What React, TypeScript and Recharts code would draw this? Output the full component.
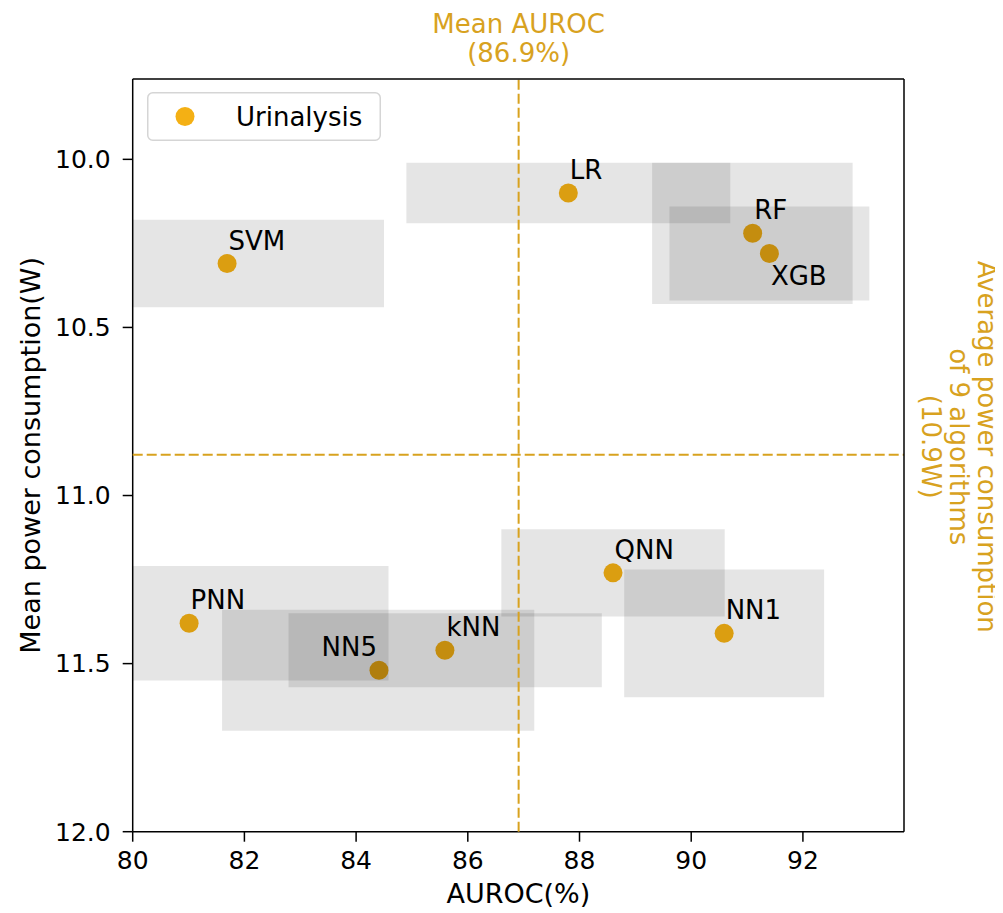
import React from 'react';
import {
  ScatterChart,
  Scatter,
  XAxis,
  YAxis,
  ReferenceArea,
  ReferenceLine,
  Legend,
} from 'recharts';

// ---------- data ----------
const models = ['LR', 'SVM', 'RF', 'XGB', 'QNN', 'NN1', 'PNN', 'NN5', 'kNN'];
const meanAuroc = [87.8, 81.69, 91.1, 91.4, 88.6, 90.59, 81.01, 84.41, 85.59];
const meanPower = [10.1, 10.31, 10.22, 10.28, 11.23, 11.41, 11.38, 11.52, 11.46];
const aurocLow = [84.9, 78.88, 89.3, 89.61, 86.6, 88.8, 77.44, 81.6, 82.79];
const aurocHigh = [90.7, 84.5, 92.89, 93.19, 90.6, 92.38, 84.58, 87.19, 88.4];
const powerLow = [10.01, 10.18, 10.01, 10.14, 11.1, 11.22, 11.21, 11.34, 11.35];
const powerHigh = [10.19, 10.44, 10.43, 10.42, 11.36, 11.6, 11.55, 11.7, 11.57];
const xTicks = [80, 82, 84, 86, 88, 90, 92];
const yTicks = [10.0, 10.5, 11.0, 11.5, 12.0];
const seriesName = 'Urinalysis';
const xLabel = 'AUROC(%)';
const yLabel = 'Mean power consumption(W)';
const meanXTitle = 'Mean AUROC';
const meanYTitle = ['Average power consumption', 'of 9 algorithms'];

// ---------- styles ----------
const X_DOMAIN: [number, number] = [80, 93.81];
const Y_DOMAIN: [number, number] = [9.761, 12.0];
const DOT = '#F4B014';
const GOLD = '#D8A21F';
const FONT = 'DejaVu Sans, Verdana, sans-serif';
const labelPlacement: Record<string, string> = { XGB: 'below', NN5: 'left' };

const points = models.map((name, i) => ({ name, x: meanAuroc[i], y: meanPower[i] }));
const avgAuroc = meanAuroc.reduce((a, b) => a + b, 0) / meanAuroc.length;
const avgPower = meanPower.reduce((a, b) => a + b, 0) / meanPower.length;

const PointShape = (props: any) => {
  const { cx, cy, payload } = props;
  if (cx == null || cy == null) return null;
  const place = labelPlacement[payload.name] ?? 'above';
  let tx = cx + 1.5;
  let ty = cy - 14;
  let anchor: 'start' | 'end' = 'start';
  if (place === 'below') ty = cy + 32;
  if (place === 'left') {
    tx = cx - 2;
    anchor = 'end';
  }
  return (
    <g>
      <circle cx={cx} cy={cy} r={9.5} fill={DOT} />
      <text x={tx} y={ty} textAnchor={anchor} fontSize={26} fontFamily={FONT} fill="#000">
        {payload.name}
      </text>
    </g>
  );
};

const TopTitle = (props: any) => {
  const vb = props.viewBox || {};
  const x = vb.x ?? 0;
  const y = vb.y ?? 0;
  return (
    <g>
      <text x={x} y={y - 46} textAnchor="middle" fontSize={26} fontFamily={FONT} fill={GOLD}>
        {meanXTitle}
      </text>
      <text x={x} y={y - 17} textAnchor="middle" fontSize={26} fontFamily={FONT} fill={GOLD}>
        {`(${avgAuroc.toFixed(1)}%)`}
      </text>
    </g>
  );
};

const RightTitle = (props: any) => {
  const vb = props.viewBox || {};
  const right = (vb.x ?? 0) + (vb.width ?? 0);
  const cy = (vb.y ?? 0) - 8;
  const lines = [...meanYTitle, `(${avgPower.toFixed(1)}W)`];
  const offs = [74, 46, 18];
  return (
    <g>
      {lines.map((t, i) => (
        <text
          key={i}
          x={right + offs[i]}
          y={cy}
          textAnchor="middle"
          fontSize={26}
          fontFamily={FONT}
          fill={GOLD}
          transform={`rotate(90, ${right + offs[i]}, ${cy})`}
        >
          {t}
        </text>
      ))}
    </g>
  );
};

const XTitle = (props: any) => {
  const vb = props.viewBox || {};
  return (
    <text
      x={(vb.x ?? 0) + (vb.width ?? 0) / 2}
      y={(vb.y ?? 0) + 71.3}
      textAnchor="middle"
      fontSize={27}
      fontFamily={FONT}
      fill="#000"
    >
      {xLabel}
    </text>
  );
};

const YTitle = (props: any) => {
  const vb = props.viewBox || {};
  const x = (vb.x ?? 0) + (vb.width ?? 0) - 92.7;
  const y = (vb.y ?? 0) + (vb.height ?? 0) / 2;
  return (
    <text
      x={x}
      y={y}
      textAnchor="middle"
      fontSize={27}
      fontFamily={FONT}
      fill="#000"
      transform={`rotate(-90, ${x}, ${y})`}
    >
      {yLabel}
    </text>
  );
};

const LegendBox = (props: any) => {
  const entry = props.payload && props.payload[0];
  const label = entry?.value ?? seriesName;
  return (
    <svg width={234} height={49} style={{ display: 'block' }}>
      <rect x={0.75} y={0.75} width={232.5} height={47.5} rx={5} ry={5} fill="rgba(255,255,255,0.8)" stroke="#d5d5d5" strokeWidth={1.5} />
      <circle cx={38} cy={24.5} r={9.5} fill={DOT} />
      <text x={89} y={33.5} fontSize={26} fontFamily={FONT} fill="#000">
        {label}
      </text>
    </svg>
  );
};

export default function App() {
  return (
    <div style={{ width: 995, height: 905, fontFamily: FONT }}>
      <style>{'html,body{overflow:hidden}'}</style>
      <ScatterChart
        width={995}
        height={905}
        margin={{ top: 71, right: 99, bottom: 11.3, left: 44.7 }}
        style={{ fontFamily: FONT, overflow: 'visible' }}
      >
        <XAxis
          type="number"
          dataKey="x"
          domain={X_DOMAIN}
          ticks={xTicks}
          allowDataOverflow
          height={70}
          tickSize={10}
          tickMargin={10}
          tick={{ fontSize: 25, fill: '#000', fontFamily: FONT }}
          axisLine={{ stroke: '#000', strokeWidth: 1.5 }}
          tickLine={{ stroke: '#000', strokeWidth: 1.5 }}
          label={(p: any) => <XTitle {...p} />}
        />
        <YAxis
          type="number"
          dataKey="y"
          domain={Y_DOMAIN}
          ticks={yTicks}
          reversed
          allowDataOverflow
          width={80}
          tickSize={10}
          tickMargin={12}
          tickFormatter={(v: number) => v.toFixed(1)}
          tick={{ fontSize: 25, fill: '#000', fontFamily: FONT }}
          axisLine={{ stroke: '#000', strokeWidth: 1.5 }}
          tickLine={{ stroke: '#000', strokeWidth: 1.5 }}
          label={(p: any) => <YTitle {...p} />}
        />
        <Legend
          layout="vertical"
          align="center"
          verticalAlign="middle"
          content={(p: any) => <LegendBox {...p} />}
          wrapperStyle={{ left: 139, top: 84, width: 234, height: 49 }}
        />
        <Scatter
          name={seriesName}
          data={points}
          fill={DOT}
          shape={(p: any) => <PointShape {...p} />}
          isAnimationActive={false}
        />
        {models.map((m, i) => (
          <ReferenceArea
            key={m}
            x1={Math.max(X_DOMAIN[0], aurocLow[i])}
            x2={Math.min(X_DOMAIN[1], aurocHigh[i])}
            y1={powerLow[i]}
            y2={powerHigh[i]}
            fill="#000"
            fillOpacity={0.1}
            stroke="none"
            strokeWidth={0}
            ifOverflow="visible"
            {...({ zIndex: 700 } as any)}
          />
        ))}
        <ReferenceLine
          x={avgAuroc}
          stroke={GOLD}
          strokeWidth={2}
          strokeDasharray="10 4"
          ifOverflow="visible"
          label={(p: any) => <TopTitle {...p} />}
          {...({ zIndex: 800 } as any)}
        />
        <ReferenceLine
          y={avgPower}
          stroke={GOLD}
          strokeWidth={2}
          strokeDasharray="10 4"
          ifOverflow="visible"
          label={(p: any) => <RightTitle {...p} />}
          {...({ zIndex: 800 } as any)}
        />
        <ReferenceLine x={X_DOMAIN[1]} stroke="#000" strokeWidth={1.5} ifOverflow="visible" {...({ zIndex: 800 } as any)} />
        <ReferenceLine y={Y_DOMAIN[0]} stroke="#000" strokeWidth={1.5} ifOverflow="visible" {...({ zIndex: 800 } as any)} />
      </ScatterChart>
    </div>
  );
}
